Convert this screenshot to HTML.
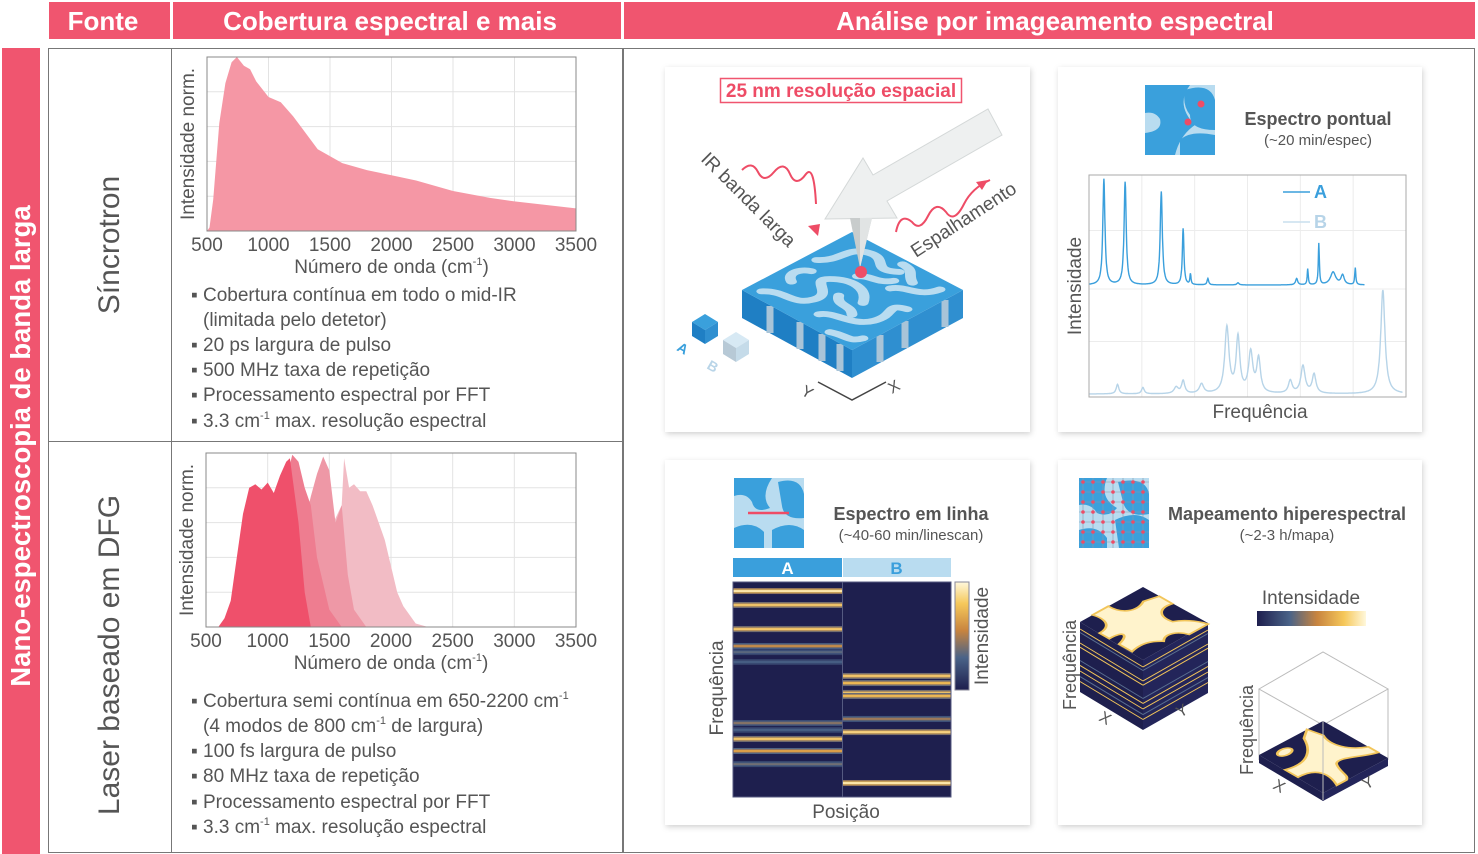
<!DOCTYPE html>
<html><head><meta charset="utf-8">
<style>
html,body{margin:0;padding:0;background:#fff;}
svg{display:block;font-family:"Liberation Sans",sans-serif;}
.t{fill:#555;}
</style></head>
<body>
<svg id="root" width="1478" height="854" viewBox="0 0 1478 854" xmlns="http://www.w3.org/2000/svg">
<defs>
<linearGradient id="cmapH" x1="0" x2="1" y1="0" y2="0">
<stop offset="0" stop-color="#1e1f4e"/><stop offset="0.3" stop-color="#4a6388"/><stop offset="0.55" stop-color="#c8843f"/><stop offset="0.8" stop-color="#f6c85a"/><stop offset="1" stop-color="#fff8dc"/>
</linearGradient>
<linearGradient id="cmapV" x1="0" x2="0" y1="1" y2="0">
<stop offset="0" stop-color="#1e1f4e"/><stop offset="0.3" stop-color="#4a6388"/><stop offset="0.55" stop-color="#c8843f"/><stop offset="0.8" stop-color="#f6c85a"/><stop offset="1" stop-color="#fff8dc"/>
</linearGradient>
<filter id="sh" x="-10%" y="-10%" width="120%" height="120%"><feDropShadow dx="1" dy="2" stdDeviation="3" flood-color="#000" flood-opacity="0.18"/></filter>
<clipPath id="icon1"><rect x="1145" y="85" width="70" height="70"/></clipPath>
<clipPath id="icon2"><rect x="734" y="478" width="70" height="70"/></clipPath>
<clipPath id="icon3"><rect x="1079" y="478" width="70" height="70"/></clipPath>
</defs>

<g>
<rect x="49" y="2" width="121" height="37" fill="#f0556f"/>
<rect x="173" y="2" width="448" height="37" fill="#f0556f"/>
<rect x="624" y="2" width="851" height="37" fill="#f0556f"/>
<text x="103" y="30" text-anchor="middle" fill="#fff" font-size="26" font-weight="bold">Fonte</text>
<text x="390" y="30" text-anchor="middle" fill="#fff" font-size="26" font-weight="bold">Cobertura espectral e mais</text>
<text x="1055" y="30" text-anchor="middle" fill="#fff" font-size="26" font-weight="bold">Análise por imageamento espectral</text>
</g>
<rect x="2" y="48" width="38" height="806" fill="#f0556f"/>
<text transform="translate(30,446) rotate(-90)" text-anchor="middle" fill="#fff" font-size="27.5" font-weight="bold">Nano-espectroscopia de banda larga</text>

<g fill="none" stroke="#777" stroke-width="1">
<rect x="48.5" y="48.5" width="574" height="804"/>
<line x1="171.5" y1="48" x2="171.5" y2="853"/>
<line x1="48" y1="441.5" x2="622" y2="441.5"/>
<rect x="623.5" y="48.5" width="851" height="804"/>
</g>
<text class="t" transform="translate(119,245) rotate(-90)" text-anchor="middle" font-size="30">Síncrotron</text>
<text class="t" transform="translate(119,655) rotate(-90)" text-anchor="middle" font-size="30">Laser baseado em DFG</text>

<g id="chart1"></g>
<g id="chart2"></g>

<g class="t" font-size="19">
<text x="191" y="301">▪ Cobertura contínua em todo o mid-IR</text>
<text x="203" y="326">(limitada pelo detetor)</text>
<text x="191" y="351">▪ 20 ps largura de pulso</text>
<text x="191" y="376">▪ 500 MHz taxa de repetição</text>
<text x="191" y="401">▪ Processamento espectral por FFT</text>
<text x="191" y="427">▪ 3.3 cm<tspan dy="-8" font-size="11">-1</tspan><tspan dy="8"> max. resolução espectral</tspan></text>
</g>
<g class="t" font-size="19">
<text x="191" y="707">▪ Cobertura semi contínua em 650-2200 cm<tspan dy="-8" font-size="11">-1</tspan></text>
<text x="203" y="732">(4 modos de 800 cm<tspan dy="-8" font-size="11">-1</tspan><tspan dy="8"> de largura)</tspan></text>
<text x="191" y="757">▪ 100 fs largura de pulso</text>
<text x="191" y="782">▪ 80 MHz taxa de repetição</text>
<text x="191" y="808">▪ Processamento espectral por FFT</text>
<text x="191" y="833">▪ 3.3 cm<tspan dy="-8" font-size="11">-1</tspan><tspan dy="8"> max. resolução espectral</tspan></text>
</g>

<rect x="665" y="67" width="365" height="365" fill="#fff" filter="url(#sh)"/>
<rect x="1058" y="67" width="364" height="365" fill="#fff" filter="url(#sh)"/>
<rect x="665" y="460" width="365" height="365" fill="#fff" filter="url(#sh)"/>
<rect x="1058" y="460" width="364" height="365" fill="#fff" filter="url(#sh)"/>

<g>
<rect x="720.5" y="78.5" width="241" height="24" fill="#fff" stroke="#f0556f" stroke-width="1.5"/>
<text x="841" y="97" text-anchor="middle" fill="#ee4c66" font-size="19" font-weight="bold">25 nm resolução espacial</text>
<polygon points="742,290 852,350 852,378 742,318" fill="#1f7fc4"/>
<polygon points="852,350 963,290 963,318 852,378" fill="#2f8fd0"/>
<g stroke="#a9c4d8" stroke-width="7">
<line x1="770" y1="306" x2="770" y2="333"/><line x1="800" y1="322" x2="800" y2="349"/><line x1="822" y1="334" x2="822" y2="361"/><line x1="840" y1="344" x2="840" y2="371"/>
<line x1="880" y1="335" x2="880" y2="362"/><line x1="905" y1="321" x2="905" y2="348"/><line x1="945" y1="300" x2="945" y2="327"/>
</g>
<polygon points="742,290 852,232 963,290 852,350" fill="#3aa0dc"/>
<g transform="matrix(1.1,-0.58,1.1,0.6,742,290)" fill="none" stroke="#b9dcf0" stroke-width="7" stroke-linecap="round">
<path d="M8,10 C20,20 10,35 25,40 S40,20 50,30 S60,55 45,65"/>
<path d="M60,8 C70,20 85,10 90,25 S75,40 88,55"/>
<path d="M15,55 C25,60 20,80 35,85 S55,75 60,90"/>
<path d="M70,65 C80,70 75,85 92,88"/>
<path d="M30,15 C35,5 45,8 48,15"/>
<path d="M5,75 C10,85 5,92 15,95"/>
<path d="M65,40 C72,45 68,55 78,60"/>
<path d="M40,48 C30,55 38,62 30,70"/>
<path d="M85,70 C90,60 96,62 96,50"/>
</g>
<polygon points="825,219 863,158 873,175 988,109 1002,135 887,201 897,218" fill="#eef0f0" stroke="#d4d8d8"/>
<polygon points="850,218 872,218 860,268" fill="#c8cccc"/>
<polygon points="860,218 872,218 860,268" fill="#e1e4e4"/>
<circle cx="861" cy="272" r="6" fill="#ee4c66"/>
<path d="M742,170 q10,-10 16,2 q6,12 16,0 q10,-12 16,2 q6,14 16,0 q8,-10 10,30" fill="none" stroke="#ee4c66" stroke-width="2"/>
<polygon points="818,236 808,226 820,224" fill="#ee4c66"/>
<path d="M896,232 q4,-20 16,-10 q8,10 16,-6 q8,-16 18,-4 q8,12 18,-8 q8,-16 26,-24" fill="none" stroke="#ee4c66" stroke-width="2"/>
<polygon points="988,180 976,182 982,190" fill="#ee4c66"/>
<text class="t" transform="translate(700,160) rotate(45)" font-size="19">IR banda larga</text>
<text class="t" transform="translate(916,258) rotate(-33)" font-size="19">Espalhamento</text>
<polygon points="705,314 718,322 705,330 692,322" fill="#3aa0dc"/><polygon points="692,322 705,330 705,344 692,336" fill="#1f7fc4"/><polygon points="705,330 718,322 718,336 705,344" fill="#2f8fd0"/>
<polygon points="736,332 749,340 736,348 723,340" fill="#d7e9f4"/><polygon points="723,340 736,348 736,362 723,354" fill="#b7c9d6"/><polygon points="736,348 749,340 749,354 736,362" fill="#c5dbe9"/>
<text transform="translate(676,350) rotate(30)" fill="#3aa0dc" font-size="14" font-weight="bold">A</text>
<text transform="translate(706,368) rotate(30)" fill="#b9d5e8" font-size="14" font-weight="bold">B</text>
<path d="M818,382 L852,400 L886,382" fill="none" stroke="#444" stroke-width="1.5"/>
<text class="t" transform="translate(800,394) rotate(30)" font-size="16">Y</text>
<text class="t" transform="translate(892,394) rotate(-30)" font-size="16">X</text>
</g>

<g clip-path="url(#icon1)">
<rect x="1145" y="85" width="70" height="70" fill="#b9dcf0"/>
<path d="M1145,85 h45 q-15,20 5,40 q-15,10 -20,30 h-30 v-22 q18,-2 15,-14 q-5,-8 -15,-6z" fill="#3aa0dc"/>
<path d="M1185,90 q25,-8 30,10 v30 q-25,0 -25,-15 q-8,-10 -5,-25z" fill="#3aa0dc"/>
<path d="M1180,140 q10,-10 35,-5 v20 h-35z" fill="#3aa0dc"/>
<circle cx="1201" cy="104" r="3.5" fill="#ee4c66"/><circle cx="1188" cy="122" r="3.5" fill="#ee4c66"/>
</g>
<text x="1318" y="125" text-anchor="middle" fill="#555" font-size="18" font-weight="bold">Espectro pontual</text>
<text x="1318" y="145" text-anchor="middle" class="t" font-size="15">(~20 min/espec)</text>
<g id="chart3"></g>

<g clip-path="url(#icon2)">
<rect x="734" y="478" width="70" height="70" fill="#b9dcf0"/>
<path d="M734,478 h38 q-12,18 -2,30 q-15,6 -18,-6 q-6,-10 -18,-6z" fill="#3aa0dc"/>
<path d="M778,482 q22,-6 26,12 v24 q-20,2 -22,-12z" fill="#3aa0dc"/>
<path d="M734,528 q18,-8 30,4 v16 h-30z" fill="#3aa0dc"/>
<path d="M772,530 q18,-10 32,0 v18 h-32z" fill="#3aa0dc"/>
<line x1="748" y1="513" x2="789" y2="513" stroke="#ee4c66" stroke-width="2.5"/>
</g>
<text x="911" y="520" text-anchor="middle" fill="#555" font-size="18" font-weight="bold">Espectro em linha</text>
<text x="911" y="540" text-anchor="middle" class="t" font-size="15">(~40-60 min/linescan)</text>
<g id="chart4"></g>

<g clip-path="url(#icon3)">
<rect x="1079" y="478" width="70" height="70" fill="#b9dcf0"/>
<path d="M1079,478 h28 q-8,20 10,30 q-8,10 -20,5 q-6,-10 -18,-8z" fill="#3aa0dc"/>
<path d="M1118,482 q28,-6 31,12 v20 q-22,4 -26,-12z" fill="#3aa0dc"/>
<path d="M1079,530 q18,-6 28,8 v10 h-28z" fill="#3aa0dc"/>
<path d="M1115,520 q20,-10 34,0 v28 h-30z" fill="#3aa0dc"/>
<g id="mapgrid"></g>
</g>
<text x="1287" y="520" text-anchor="middle" fill="#555" font-size="18" font-weight="bold">Mapeamento hiperespectral</text>
<text x="1287" y="540" text-anchor="middle" class="t" font-size="15">(~2-3 h/mapa)</text>
<g>
<polygon points="1080,622 1143,660 1143,730 1080,692" fill="#1e1f4e"/>
<polygon points="1143,660 1208,623 1208,693 1143,730" fill="#23255a"/>
<g id="cubelines"></g>
<polygon points="1080,622 1143,587 1208,623 1143,660" fill="#1e1f4e"/>
<g transform="matrix(0.63,-0.35,0.65,0.37,1080,622)" fill="#fff3cc" stroke="#f2c55a" stroke-width="3">
<path d="M0,30 C20,30 25,15 20,0 L45,0 C45,20 60,30 80,20 L100,25 L100,45 C80,40 70,55 75,70 C85,75 95,85 100,100 L70,100 C65,85 50,80 40,90 C30,80 20,75 0,80 L0,60 C20,55 25,45 0,45z"/>
</g>
<text class="t" transform="translate(1076,710) rotate(-90)" font-size="18">Frequência</text>
<text class="t" transform="translate(1098,720) rotate(30)" font-size="16">X</text>
<text class="t" transform="translate(1180,718) rotate(-30)" font-size="16">Y</text>
</g>
<text x="1311" y="604" text-anchor="middle" class="t" font-size="19">Intensidade</text>
<rect x="1257" y="611" width="109" height="15" fill="url(#cmapH)"/>
<g>
<g fill="none" stroke="#bbb" stroke-width="1">
<polygon points="1259,689 1323,652 1388,689 1323,725"/>
<line x1="1259" y1="689" x2="1259" y2="760"/><line x1="1388" y1="689" x2="1388" y2="760"/><line x1="1323" y1="725" x2="1323" y2="800"/>
</g>
<polygon points="1259,755 1323,793 1323,801 1259,763" fill="#1e1f4e"/>
<polygon points="1323,793 1388,758 1388,766 1323,801" fill="#23255a"/>
<polygon points="1259,755 1323,721 1388,758 1323,793" fill="#1e1f4e"/>
<g transform="matrix(0.64,-0.34,0.65,0.37,1259,755)" fill="#fff3cc" stroke="#f2c55a" stroke-width="3">
<path d="M0,40 C30,50 50,30 60,10 L75,0 L80,20 C70,40 80,60 100,70 L100,85 C80,80 60,60 50,70 C40,85 45,95 35,100 L20,100 C30,80 30,60 0,60z"/>
<ellipse cx="25" cy="15" rx="10" ry="6"/>
</g>
<line x1="1323" y1="721" x2="1323" y2="800" stroke="#bbb"/>
<text class="t" transform="translate(1253,775) rotate(-90)" font-size="18">Frequência</text>
<text class="t" transform="translate(1272,788) rotate(30)" font-size="16">X</text>
<text class="t" transform="translate(1366,790) rotate(-30)" font-size="16">Y</text>
</g>
</svg>

<script>
const xTicks = [500,1000,1500,2000,2500,3000,3500];
const syncWn  = [500,520,550,600,650,700,743,800,850,900,1000,1100,1200,1400,1600,1800,2000,2200,2500,2800,3000,3250,3500];
const syncInt = [0,0.02,0.18,0.62,0.85,0.97,1.0,0.95,0.93,0.86,0.77,0.74,0.66,0.47,0.39,0.35,0.32,0.29,0.23,0.19,0.17,0.15,0.13];
const mode1Wn  = [600,650,700,750,800,850,900,950,1000,1050,1100,1150,1180,1250,1300,1350];
const mode1Int = [0,0.05,0.15,0.4,0.65,0.8,0.82,0.79,0.83,0.77,0.87,0.95,0.97,0.6,0.2,0];
const mode2Wn  = [750,900,1000,1100,1150,1200,1250,1300,1350,1400,1500,1600];
const mode2Int = [0,0.1,0.3,0.6,0.85,0.99,0.95,0.8,0.7,0.4,0.1,0];
const mode3Wn  = [800,1000,1100,1200,1300,1350,1400,1450,1500,1550,1600,1650,1700,1800];
const mode3Int = [0,0.05,0.1,0.3,0.6,0.75,0.88,0.98,0.9,0.6,0.7,0.3,0.1,0];
const mode4Wn  = [900,1100,1300,1400,1500,1600,1620,1660,1700,1750,1800,1850,1900,1950,2000,2050,2100,2200,2300];
const mode4Int = [0,0.03,0.1,0.3,0.55,0.7,0.97,0.8,0.82,0.78,0.78,0.7,0.6,0.5,0.35,0.2,0.12,0.02,0];
const specAPos = [0.047,0.114,0.228,0.297,0.32,0.375,0.47,0.655,0.69,0.725,0.77,0.80,0.84];
const specAHt  = [1.0,0.97,0.88,0.53,0.1,0.06,0.02,0.06,0.15,0.39,0.12,0.09,0.16];
const specAW   = [0.004,0.004,0.004,0.003,0.002,0.003,0.004,0.004,0.002,0.002,0.01,0.006,0.002];
const specBPos = [0.09,0.17,0.275,0.297,0.355,0.435,0.47,0.51,0.535,0.635,0.675,0.71,0.927];
const specBHt  = [0.09,0.06,0.06,0.12,0.09,0.62,0.52,0.38,0.32,0.12,0.26,0.18,0.98];
const specBW   = [0.005,0.005,0.008,0.006,0.008,0.008,0.007,0.008,0.007,0.007,0.008,0.007,0.008];
const lineAFreq = [0.042,0.107,0.219,0.298,0.326,0.372,0.656,0.688,0.730,0.786,0.847];
const lineAInt  = [1.0,0.85,0.85,0.6,0.35,0.3,0.45,0.3,0.85,0.7,0.4];
const lineBFreq = [0.437,0.470,0.516,0.530,0.637,0.698,0.935];
const lineBInt  = [0.85,0.8,0.85,0.8,0.5,0.9,1.0];

const NS = "http://www.w3.org/2000/svg";
function mk(tag, attrs, parent){const e=document.createElementNS(NS,tag);for(const k in attrs)e.setAttribute(k,attrs[k]);if(parent)parent.appendChild(e);return e;}
function cmap(v){const st=[[0,[30,31,78]],[0.3,[74,99,136]],[0.55,[200,132,63]],[0.8,[246,200,90]],[1,[255,248,220]]];
 for(let i=1;i<st.length;i++){if(v<=st[i][0]){const a=st[i-1],b=st[i],t=(v-a[0])/(b[0]-a[0]);return 'rgb('+a[1].map((c,j)=>Math.round(c+(b[1][j]-c)*t)).join(',')+')';}}return 'rgb(255,248,220)';}

function spectrumChart(g, x0,x1,y0,y1, labelY, series){
 const xs=v=>x0+(v-500)/3000*(x1-x0), ys=v=>y1-v*(y1-y0);
 for(let i=1;i<5;i++){mk('line',{x1:x0,x2:x1,y1:y0+i*(y1-y0)/5,y2:y0+i*(y1-y0)/5,stroke:'#e3e3e3'},g);}
 xTicks.forEach(t=>{mk('line',{x1:xs(t),x2:xs(t),y1:y0,y2:y1,stroke:'#e3e3e3'},g);
  const tx=mk('text',{x:xs(t),y:labelY,'text-anchor':'middle','font-size':19,fill:'#555'},g);tx.textContent=t;
  
  });
 series.forEach(s=>{let d='M'+xs(s.x[0])+','+ys(0);s.x.forEach((v,i)=>d+='L'+xs(v).toFixed(1)+','+ys(s.y[i]).toFixed(1));d+='L'+xs(s.x[s.x.length-1])+','+ys(0)+'Z';
  const p=mk('path',{d:d,fill:s.c},g);
  
  });
 mk('rect',{x:x0,y:y0,width:x1-x0,height:y1-y0,fill:'none',stroke:'#888'},g);
 const xt=mk('text',{x:(x0+x1)/2,y:labelY+22,'text-anchor':'middle','font-size':19,fill:'#555'},g);
 xt.innerHTML='Número de onda (cm<tspan dy="-8" font-size="11">-1</tspan><tspan dy="8">)</tspan>';
 
 
 const yt=mk('text',{transform:'translate('+(x0-13)+','+(y0+(y1-y0)/2)+') rotate(-90)','text-anchor':'middle','font-size':19,fill:'#555'},g);
 yt.textContent='Intensidade norm.';
 
 
}
spectrumChart(document.getElementById('chart1'),207,576,57,231,251,[{x:syncWn,y:syncInt,c:'#f597a5',n:'synchrotron-area'}]);
spectrumChart(document.getElementById('chart2'),206,576,453,627,647,[
 {x:mode4Wn,y:mode4Int,c:'#f2bcc5',n:'mode-4-area'},{x:mode3Wn,y:mode3Int,c:'#ee98a6',n:'mode-3-area'},
 {x:mode2Wn,y:mode2Int,c:'#ee7d90',n:'mode-2-area'},{x:mode1Wn,y:mode1Int,c:'#ef506b',n:'mode-1-area'}]);

(function(){
 const g=document.getElementById('chart3');const x0=1089,x1=1406,y0=175,y1=397;
 for(let i=1;i<4;i++){mk('line',{x1:x0,x2:x1,y1:y0+i*(y1-y0)/4+(i==2?3:0),y2:y0+i*(y1-y0)/4+(i==2?3:0),stroke:'#ececec'},g);}
 for(let i=1;i<6;i++){mk('line',{x1:x0+i*(x1-x0)/6,x2:x0+i*(x1-x0)/6,y1:y0,y2:y1,stroke:'#ececec'},g);}
 function line(pos,ht,w,base,amp,xEnd,col,nm){let d='';for(let f=0;f<=xEnd;f+=0.001){let v=0;pos.forEach((p,i)=>{v+=ht[i]/(1+Math.pow((f-p)/w[i],2));});
   d+=(d?'L':'M')+(x0+f*(x1-x0)).toFixed(1)+','+(base-v*amp).toFixed(1);}
  const p=mk('path',{d:d,fill:'none',stroke:col,'stroke-width':1.4},g);
  
  }
 line(specAPos,specAHt,specAW,285,106,0.87,'#3a9fdc','spectrum-a');
 line(specBPos,specBHt,specBW,394,106,0.99,'#b7d4e8','spectrum-b');
 mk('rect',{x:x0,y:y0,width:x1-x0,height:y1-y0,fill:'none',stroke:'#aaa'},g);
 mk('line',{x1:1283,x2:1310,y1:192,y2:192,stroke:'#3a9fdc','stroke-width':1.5},g);
 mk('line',{x1:1283,x2:1310,y1:222,y2:222,stroke:'#c9dfee','stroke-width':1.5},g);
 const a=mk('text',{x:1314,y:198,fill:'#3a9fdc','font-size':18,'font-weight':'bold'},g);a.textContent='A';
 
 
 const b=mk('text',{x:1314,y:228,fill:'#b7d4e8','font-size':18,'font-weight':'bold'},g);b.textContent='B';
 
 
 const yt=mk('text',{transform:'translate(1081,286) rotate(-90)','text-anchor':'middle','font-size':19,fill:'#555'},g);yt.textContent='Intensidade';
 
 
 const xt=mk('text',{x:1260,y:418,'text-anchor':'middle','font-size':19,fill:'#555'},g);xt.textContent='Frequência';
 
 
})();

(function(){
 const g=document.getElementById('chart4');const x0=733,xm=842,x1=951,y0=582,y1=797;
 mk('rect',{x:x0,y:558,width:xm-x0,height:19,fill:'#3a9fdc'},g);
 mk('rect',{x:xm+1,y:558,width:x1-xm-1,height:19,fill:'#b9dcf0'},g);
 let t=mk('text',{x:(x0+xm)/2,y:574,'text-anchor':'middle','font-size':17,'font-weight':'bold',fill:'#fff'},g);t.textContent='A';
 t=mk('text',{x:(xm+x1)/2,y:574,'text-anchor':'middle','font-size':17,'font-weight':'bold',fill:'#3a9fdc'},g);t.textContent='B';
 mk('rect',{x:x0,y:y0,width:x1-x0,height:y1-y0,fill:'#1e1f4e',stroke:'#555a80'},g);
 function bands(fr,it,xa,xb,nm){fr.forEach((f,i)=>{const y=y0+f*(y1-y0);
   [[3,0.45],[1.5,0.8],[0.6,1]].forEach(([h,k])=>{const r=mk('rect',{x:xa,y:y-h,width:xb-xa,height:2*h,fill:cmap(it[i]*k)},g);
    
    });});}
 bands(lineAFreq,lineAInt,x0+0.5,xm,'band-a');
 bands(lineBFreq,lineBInt,xm+0.5,x1-0.5,'band-b');
 mk('line',{x1:xm+0.5,x2:xm+0.5,y1:y0,y2:y1,stroke:'#555a80'},g);
 mk('rect',{x:955,y:582,width:14,height:108,fill:'url(#cmapV)',stroke:'#889'},g);
 t=mk('text',{transform:'translate(988,636) rotate(-90)','text-anchor':'middle','font-size':19,fill:'#555'},g);t.textContent='Intensidade';
 
 
 t=mk('text',{transform:'translate(723,688) rotate(-90)','text-anchor':'middle','font-size':19,fill:'#555'},g);t.textContent='Frequência';
 
 
 t=mk('text',{x:846,y:818,'text-anchor':'middle','font-size':19,fill:'#555'},g);t.textContent='Posição';
 
 
})();

(function(){
 const g=document.getElementById('mapgrid');
 for(let i=0;i<7;i++){mk('line',{x1:1079+i*10+4,x2:1079+i*10+4,y1:478,y2:548,stroke:'#8a9aaa','stroke-width':0.6},g);
  mk('line',{x1:1079,x2:1149,y1:478+i*10+4,y2:478+i*10+4,stroke:'#8a9aaa','stroke-width':0.6},g);}
 for(let i=0;i<7;i++)for(let j=0;j<7;j++)mk('circle',{cx:1083+i*10,cy:482+j*10,r:1.8,fill:'#ee4c66'},g);
 const c=document.getElementById('cubelines');
 const fr=[0.1,0.15,0.3,0.36,0.55,0.62,0.7,0.78,0.85];
 fr.forEach((f,i)=>{const dy=f*70;const col=i%3==1?'#5a6f90':'#f2c55a';
  mk('line',{x1:1080,y1:622+dy,x2:1143,y2:660+dy,stroke:col,'stroke-width':1},c);
  mk('line',{x1:1143,y1:660+dy,x2:1208,y2:623+dy,stroke:col,'stroke-width':1},c);});
})();
</script>
</body></html>
